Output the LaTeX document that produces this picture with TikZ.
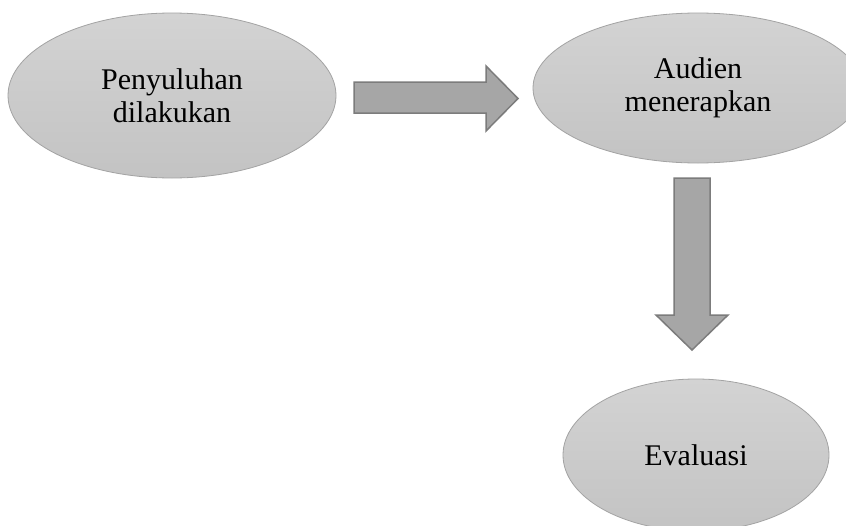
\documentclass[tikz,border=0pt]{standalone}
\usepackage{fontspec}
\setmainfont{Liberation Serif}
\usetikzlibrary{shapes.geometric}
\definecolor{ovaltop}{HTML}{D3D3D3}
\definecolor{ovalbot}{HTML}{C3C3C3}
\definecolor{ovalline}{HTML}{A3A3A3}
\definecolor{panahisi}{HTML}{A6A6A6}
\definecolor{panahgaris}{HTML}{7C7C7C}
\tikzset{
  oval/.style={ellipse, draw=ovalline, line width=0.8pt, top color=ovaltop,
    bottom color=ovalbot, align=center, inner sep=0pt,
    font=\fontsize{30}{33}\selectfont},
  panah/.style={draw=panahgaris, fill=panahisi, line width=1.5pt, line join=miter}
}

\begin{document}
\begin{tikzpicture}[x=1pt,y=-1pt]
      \clip (0,0) rectangle (846,525);
      \fill[white] (0,0) rectangle (846,525);
      % lingkaran
      \node[oval, minimum width=328pt, minimum height=165pt] (penyuluhan) at (172,95.5) {Penyuluhan\\dilakukan};
      \node[oval, minimum width=330pt, minimum height=150pt] (audien) at (698,88) {Audien\\menerapkan};
      \node[oval, minimum width=266pt, minimum height=152pt] (evaluasi) at (696,455) {Evaluasi};
      % panah
      \coordinate (kanan) at (354,82);
      \coordinate (bawah) at (674,178);
      \draw[panah] (kanan) -- ++(132,0) -- ++(0,-16) -- ++(32,32.5) -- ++(-32,32.5) -- ++(0,-18) -- ++(-132,0) -- cycle;
      \draw[panah] (bawah) -- ++(36,0) -- ++(0,137) -- ++(18,0) -- ++(-36,35) -- ++(-36,-35) -- ++(18,0) -- cycle;
\end{tikzpicture}
\end{document}
